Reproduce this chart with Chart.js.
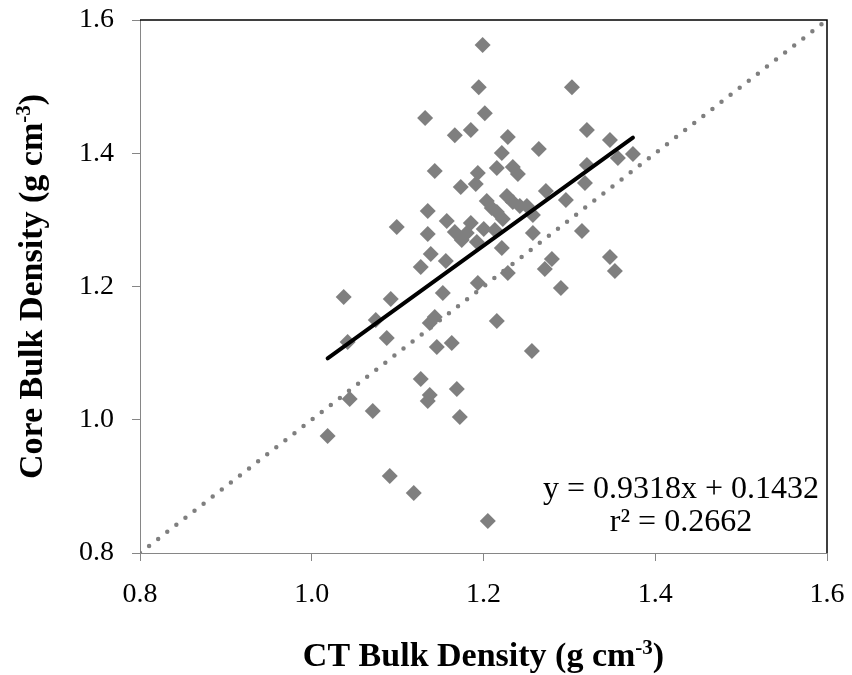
<!DOCTYPE html>
<html>
<head>
<meta charset="utf-8">
<script src="https://cdn.jsdelivr.net/npm/chart.js@4.4.1/dist/chart.umd.min.js"></script>
<style>
  html, body { margin: 0; padding: 0; background: #ffffff; }
  #wrap { width: 852px; height: 675px; }
</style>
</head>
<body>
<div id="wrap"><canvas id="chart" width="852" height="675"></canvas></div>
<script>
// CT-derived vs. core-measured bulk density (g cm-3), one entry per sample
const ctBulk = [
  1.199, 1.1945, 1.303, 1.2015, 1.132, 1.1666, 1.1852, 1.2283, 1.3204, 1.3472,
  1.2213, 1.2644, 1.374, 1.3565, 1.1432, 1.1735, 1.1934, 1.191, 1.2155, 1.2341,
  1.24, 1.3204, 1.3181, 1.2726, 1.2959, 1.1351, 1.2038, 1.2096, 1.2272, 1.2341,
  1.2423, 1.2505, 1.2575, 1.2155, 1.2225, 1.099, 1.1351, 1.1572, 1.1666, 1.1747,
  1.1805, 1.1852, 1.1922, 1.2003, 1.2132, 1.2575, 1.3146, 1.2213, 1.1386, 1.1561,
  1.1269, 1.2796, 1.2714, 1.2283, 1.3472, 1.353, 1.1934, 1.2901, 1.1526, 1.0372,
  1.092, 1.0745, 1.1432, 1.1374, 1.2155, 1.0418, 1.0873, 1.1456, 1.163, 1.2563,
  1.1269, 1.1689, 1.1374, 1.1351, 1.0442, 1.071, 1.1724, 1.0185, 1.0908, 1.1188,
  1.205
];
const coreBulk = [
  1.5625, 1.499, 1.499, 1.460, 1.453, 1.427, 1.435, 1.4244, 1.435, 1.4199,
  1.4004, 1.4064, 1.3989, 1.3929, 1.3734, 1.3493, 1.3704, 1.3538, 1.3779, 1.3795,
  1.3689, 1.3824, 1.3553, 1.3433, 1.3298, 1.3133, 1.3283, 1.3178, 1.3358, 1.3268,
  1.3208, 1.3208, 1.3073, 1.3118, 1.3013, 1.2893, 1.2788, 1.2983, 1.2818, 1.2698,
  1.2803, 1.2953, 1.2668, 1.2863, 1.2848, 1.2803, 1.2833, 1.2578, 1.2488, 1.2383,
  1.2293, 1.2413, 1.2263, 1.2203, 1.2443, 1.2233, 1.2053, 1.1977, 1.1902, 1.1842,
  1.1812, 1.1497, 1.1542, 1.1452, 1.1482, 1.1167, 1.1227, 1.1092, 1.1152, 1.1032,
  1.0612, 1.0462, 1.0371, 1.0281, 1.0311, 1.0131, 1.0041, 0.9756, 0.9156, 0.89,
  0.848
];

// Axis tick values (same on both axes)
const xTickValues = [0.8, 1.0, 1.2, 1.4, 1.6];
const yTickValues = [0.8, 1.0, 1.2, 1.4, 1.6];

// Linear fit reported on the chart
const fitSlope = 0.9318;
const fitIntercept = 0.1432;
const fitR2 = 0.2662;

// Axis titles: main text, superscript, closing text
const xTitleParts = ['CT Bulk Density (g cm', '-3', ')'];
const yTitleParts = ['Core Bulk Density (g cm', '-3', ')'];

const SERIF = '"Liberation Serif", "Times New Roman", serif';
const GREY = '#7f7f7f';
const AXIS_GREY = '#868686';

const samples = ctBulk.map((x, i) => ({ x: x, y: coreBulk[i] }));
const xLo = Math.min(...ctBulk), xHi = Math.max(...ctBulk);
const fitLine = [
  { x: xLo, y: fitSlope * xLo + fitIntercept },
  { x: xHi, y: fitSlope * xHi + fitIntercept }
];
const oneToOne = [
  { x: xTickValues[0], y: yTickValues[0] },
  { x: xTickValues[xTickValues.length - 1], y: yTickValues[yTickValues.length - 1] }
];

function drawSupTitle(ctx, parts, size) {
  const mainFont = 'bold ' + size + 'px ' + SERIF;
  const supFont = 'bold ' + Math.round(size * 0.62) + 'px ' + SERIF;
  ctx.font = mainFont;
  const w0 = ctx.measureText(parts[0]).width;
  const w2 = ctx.measureText(parts[2]).width;
  ctx.font = supFont;
  const w1 = ctx.measureText(parts[1]).width;
  let x = -(w0 + w1 + w2) / 2;
  ctx.textAlign = 'left';
  ctx.textBaseline = 'alphabetic';
  ctx.fillStyle = '#000';
  ctx.font = mainFont; ctx.fillText(parts[0], x, 0); x += w0;
  ctx.font = supFont; ctx.fillText(parts[1], x, -size * 0.36); x += w1;
  ctx.font = mainFont; ctx.fillText(parts[2], x, 0);
}

const decorations = {
  id: 'decorations',
  beforeDatasetsDraw(chart) {
    const { ctx, chartArea: a } = chart;
    ctx.save();
    ctx.strokeStyle = '#000';
    ctx.lineWidth = 1.5;
    ctx.beginPath();
    ctx.moveTo(a.left, a.top);
    ctx.lineTo(a.right, a.top);
    ctx.lineTo(a.right, a.bottom);
    ctx.stroke();
    ctx.restore();
  },
  afterDraw(chart) {
    const { ctx, chartArea: a } = chart;
    // axis titles
    ctx.save();
    ctx.translate((a.left + a.right) / 2, 666);
    drawSupTitle(ctx, xTitleParts, 34);
    ctx.restore();
    ctx.save();
    ctx.translate(42, (a.top + a.bottom) / 2);
    ctx.rotate(-Math.PI / 2);
    drawSupTitle(ctx, yTitleParts, 34);
    ctx.restore();
    // fit equation
    ctx.save();
    ctx.fillStyle = '#000';
    ctx.font = '32px ' + SERIF;
    ctx.textAlign = 'center';
    ctx.textBaseline = 'alphabetic';
    const cx = a.right - 146;
    ctx.fillText('y = ' + fitSlope.toFixed(4) + 'x + ' + fitIntercept.toFixed(4), cx, a.bottom - 55);
    ctx.fillText('r\u00B2 = ' + fitR2.toFixed(4), cx, a.bottom - 22);
    ctx.restore();
  }
};

function axisOptions(values, isX) {
  return {
    type: 'linear',
    min: values[0],
    max: values[values.length - 1],
    afterBuildTicks: s => { s.ticks = values.map(v => ({ value: v })); },
    afterFit: s => {
      if (isX) { s.height = 122; s.paddingLeft = 0; s.paddingRight = 0; }
      else { s.width = 140; s.paddingTop = 0; s.paddingBottom = 0; }
    },
    grid: { display: true, drawOnChartArea: false, drawTicks: true, tickLength: 8, color: AXIS_GREY, lineWidth: 1 },
    border: { display: true, color: AXIS_GREY, width: 1 },
    ticks: {
      color: '#000',
      font: { family: SERIF, size: 28 },
      padding: isX ? 17 : 18,
      maxRotation: 0,
      autoSkip: false,
      callback: v => Number(v).toFixed(1)
    }
  };
}

new Chart(document.getElementById('chart'), {
  type: 'scatter',
  data: {
    datasets: [
      {
        label: 'Fit',
        data: fitLine,
        showLine: true,
        borderColor: '#000',
        borderWidth: 4,
        borderCapStyle: 'round',
        pointRadius: 0,
        order: 1
      },
      {
        label: '1:1',
        data: oneToOne,
        showLine: true,
        borderColor: GREY,
        borderWidth: 4.5,
        borderDash: [0, 11.5],
        borderCapStyle: 'round',
        pointRadius: 0,
        order: 2
      },
      {
        label: 'Samples',
        data: samples,
        pointStyle: 'rectRot',
        pointRadius: 8,
        pointBackgroundColor: GREY,
        pointBorderWidth: 0,
        pointBorderColor: GREY,
        order: 3
      }
    ]
  },
  options: {
    responsive: false,
    animation: false,
    devicePixelRatio: 1,
    layout: { padding: { top: 20, right: 25, left: 0, bottom: 0 } },
    plugins: { legend: { display: false }, tooltip: { enabled: false } },
    scales: {
      x: axisOptions(xTickValues, true),
      y: axisOptions(yTickValues, false)
    }
  },
  plugins: [decorations]
});
</script>
</body>
</html>
